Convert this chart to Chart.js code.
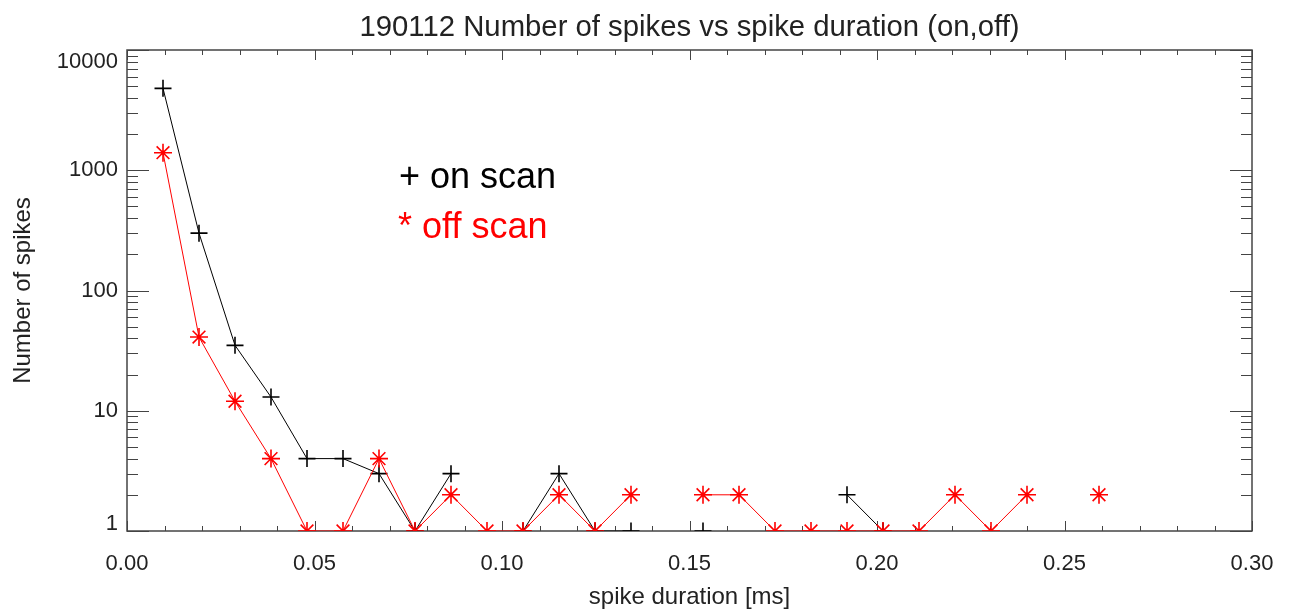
<!DOCTYPE html>
<html>
<head>
<meta charset="utf-8">
<title>190112 Number of spikes vs spike duration</title>
<script src="https://cdn.jsdelivr.net/npm/chart.js@4/dist/chart.umd.min.js"></script>
<style>
  html, body { margin:0; padding:0; background:#fff; }
  #wrap { width:1289px; height:614px; }
</style>
</head>
<body>
<div id="wrap"><canvas id="spikeChart" width="1289" height="614"></canvas></div>
<script>
// --- DATA ---
const durations = [0.0096, 0.0192, 0.0288, 0.0384, 0.0480, 0.0576, 0.0672, 0.0768, 0.0864, 0.0960,
                   0.1056, 0.1152, 0.1248, 0.1344, 0.1440, 0.1536, 0.1632, 0.1728, 0.1824, 0.1920,
                   0.2016, 0.2112, 0.2208, 0.2304, 0.2400, 0.2496, 0.2592];
// null = zero count (not drawn on log axis)
const onScan  = [4800, 300, 35, 13, 4, 4, 3, 1, 3, null,
                 1, 3, 1, 1, null, 1, null, null, null, 2,
                 1, null, null, null, null, null, null];
const offScan = [1400, 41, 12, 4, 1, 1, 4, 1, 2, 1,
                 1, 2, 1, 2, null, 2, 2, 1, 1, 1,
                 1, 1, 2, 1, 2, null, 2];
const xTickValues = [0, 0.05, 0.10, 0.15, 0.20, 0.25, 0.30];
const yTickValues = [1, 10, 100, 1000, 10000];

const FONT = "'Liberation Sans', Arial, Helvetica, sans-serif";
const TEXT = '#222';
const TITLE = '190112 Number of spikes vs spike duration (on,off)';

function pairs(ys){ return durations.map((x, i) => ({x, y: ys[i]})); }

// --- IDL style box with inward ticks ---
const frame = {
  id: 'frame',
  beforeDatasetsDraw(chart){
    const {ctx, chartArea: a, scales: {x, y}} = chart;
    ctx.save();
    ctx.strokeStyle = '#444';
    ctx.lineWidth = 1;
    ctx.beginPath();
    for(let k = 0; k <= 30; k++){
      const px = Math.round(x.getPixelForValue(k / 100)) + 0.5;
      const len = k % 5 === 0 ? 10 : 5;
      ctx.moveTo(px, a.bottom); ctx.lineTo(px, a.bottom - len);
      ctx.moveTo(px, a.top); ctx.lineTo(px, a.top + len);
    }
    for(let d = 0; d <= 4; d++){
      for(let m = 1; m <= 9; m++){
        const v = m * Math.pow(10, d);
        if(v > 10000) break;
        const py = Math.round(y.getPixelForValue(v)) + 0.5;
        const len = m === 1 ? 22 : 11;
        ctx.moveTo(a.left, py); ctx.lineTo(a.left + len, py);
        ctx.moveTo(a.right, py); ctx.lineTo(a.right - len, py);
      }
    }
    ctx.stroke();
    ctx.lineWidth = 1.5;
    ctx.strokeRect(a.left, a.top, a.right - a.left, a.bottom - a.top);
    ctx.restore();
  }
};

// --- title, y labels (kept inside the axis like IDL), legend text ---
const texts = {
  id: 'texts',
  afterDraw(chart){
    const {ctx, chartArea: a, scales: {y}} = chart;
    ctx.save();
    ctx.textBaseline = 'middle';

    ctx.font = '29.3px ' + FONT;
    ctx.textAlign = 'center';
    ctx.fillStyle = TEXT;
    ctx.fillText(TITLE, (a.left + a.right) / 2, 28);

    ctx.font = '22px ' + FONT;
    ctx.textAlign = 'right';
    yTickValues.forEach(v => {
      let py = y.getPixelForValue(v);
      if(v === yTickValues[0]) py -= 7;
      if(v === yTickValues[yTickValues.length - 1]) py += 12;
      ctx.fillText(String(v), a.left - 9, py);
    });

    ctx.font = '36px ' + FONT;
    ctx.textAlign = 'left';
    ctx.fillStyle = '#000';
    ctx.fillText('+ on scan', a.left + 272, a.top + 128);
    ctx.fillStyle = '#ff0000';
    ctx.fillText('* off scan', a.left + 271, a.top + 178);
    ctx.restore();
  }
};

const ctx = document.getElementById('spikeChart').getContext('2d');
new Chart(ctx, {
  type: 'line',
  data: {
    datasets: [
      {
        label: 'off scan', data: pairs(offScan), order: 0,
        borderColor: '#ff0000', borderWidth: 1, pointStyle: 'star',
        pointRadius: 9, pointBorderWidth: 1.6, pointBorderColor: '#ff0000',
        pointBackgroundColor: '#ff0000', spanGaps: false, clip: 0, tension: 0
      },
      {
        label: 'on scan', data: pairs(onScan), order: 1,
        borderColor: '#000', borderWidth: 1, pointStyle: 'cross',
        pointRadius: 8.5, pointBorderWidth: 1.6, pointBorderColor: '#000',
        spanGaps: false, clip: 0, tension: 0
      }
    ]
  },
  options: {
    responsive: false,
    animation: false,
    layout: { padding: { left: 0, right: 37, top: 50, bottom: 0 } },
    plugins: {
      legend: { display: false },
      tooltip: { enabled: false },
      title: { display: false }
    },
    scales: {
      x: {
        type: 'linear', min: 0, max: 0.30,
        grid: { display: false, drawTicks: false },
        border: { display: false },
        afterBuildTicks: s => { s.ticks = xTickValues.map(v => ({value: v})); },
        afterFit: s => { s.height = 83; s.paddingLeft = 0; s.paddingRight = 0; },
        ticks: {
          color: TEXT, padding: 20,
          font: { family: FONT, size: 22 },
          callback: v => v.toFixed(2)
        },
        title: {
          display: true, text: 'spike duration [ms]', color: TEXT,
          font: { family: FONT, size: 24 }, padding: { top: 0, bottom: 2 }
        }
      },
      y: {
        type: 'logarithmic', min: 1, max: 10000,
        grid: { display: false, drawTicks: false },
        border: { display: false },
        afterBuildTicks: s => { s.ticks = yTickValues.map(v => ({value: v})); },
        afterFit: s => { s.width = 127; },
        ticks: { display: false },
        title: {
          display: true, text: 'Number of spikes', color: TEXT,
          font: { family: FONT, size: 24 }, padding: { top: 9, bottom: 0 }
        }
      }
    }
  },
  plugins: [frame, texts]
});
</script>
</body>
</html>
